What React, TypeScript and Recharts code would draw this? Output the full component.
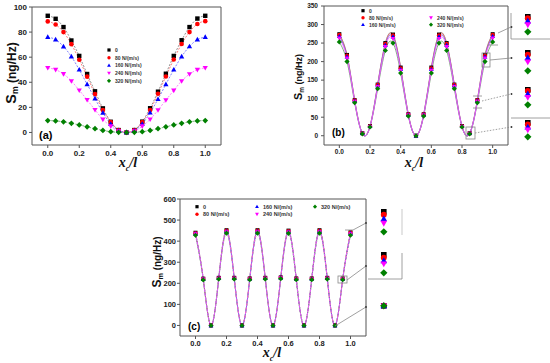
import React from 'react';
import { LineChart, Line, XAxis, YAxis, ReferenceLine, ScatterChart, Scatter } from 'recharts';

// positions along the beam, x_c / l
const xs = [0, 0.05, 0.1, 0.15, 0.2, 0.25, 0.3, 0.35, 0.4, 0.45, 0.5, 0.55, 0.6, 0.65, 0.7, 0.75, 0.8, 0.85, 0.9, 0.95, 1.0];
const xTicks = [0, 0.2, 0.4, 0.6, 0.8, 1.0];

const seriesNames = ['0', '80 N/(m/s)', '160 N/(m/s)', '240 N/(m/s)', '320 N/(m/s)'];
const seriesKeys = ['s0', 's80', 's160', 's240', 's320'];
const colors = ['#000000', '#ff0000', '#0000ff', '#ff00ff', '#008000'];
const lineColors = ['#777777', '#ff6060', '#6060ff', '#ff60ff', '#5a9a5a'];
const shapes = ['square', 'circle', 'triangle', 'down', 'diamond'];

// (a)
const a0 = [93, 90.6, 84, 73.3, 61, 46.6, 32.8, 19.2, 8.5, 1.9, 0, 1.9, 8.6, 19.3, 32.5, 46.8, 61, 73.5, 84, 90.8, 93];
const a80 = [88.5, 86, 80, 70.4, 58, 44.5, 30.6, 17.8, 8.3, 2, 0, 2, 8.3, 17.8, 30.8, 44.6, 58.2, 70.5, 80, 86.5, 88.7];
const a160 = [76, 74, 68.5, 60.5, 50, 38.4, 27, 15.7, 6.7, 1.5, 0, 1.5, 6.8, 15.8, 26.5, 38.4, 50, 60.5, 68.6, 74, 76];
const a240 = [51.5, 50, 46.6, 41, 33.6, 26, 18, 10.4, 5, 1, 0, 1, 5, 10.5, 17.8, 25.8, 33.5, 41, 46.5, 50, 51.5];
const a320 = [9.5, 9.2, 8.5, 7.3, 6, 4.5, 3, 1.6, 0.6, 0.1, 0, 0.1, 0.6, 1.6, 3, 4.5, 6, 7.3, 8.5, 9.2, 9.5];
const aYTicks = [0, 20, 40, 60, 80, 100];

// (b)
const b0 = [274, 218, 96, 6.8, 26, 138, 250, 273, 184, 58, 0, 58, 184, 273, 250, 138, 26, 6.8, 96, 218, 274];
const b80 = [272, 216, 95.5, 6.6, 25.8, 137, 248, 271, 182, 57.5, 0, 57.5, 182, 271, 248, 137, 25.8, 6.6, 95.5, 216, 272];
const b160 = [268, 213, 94, 6.3, 25.2, 135, 244, 267, 179, 56.5, 0, 56.5, 179, 267, 244, 135, 25.2, 6.3, 94, 213, 268];
const b240 = [263, 209, 92.5, 6.0, 24.7, 132, 240, 262, 176, 55.5, 0, 55.5, 176, 262, 240, 132, 24.7, 6.0, 92.5, 209, 263];
const b320 = [253, 200, 89, 5.2, 23.6, 127, 230, 250, 169, 53, 0, 53, 169, 250, 230, 127, 23.6, 5.2, 89, 200, 253];
const bYTicks = [0, 50, 100, 150, 200, 250, 300, 350];

// (c)
const c0 = [440, 222, 0, 226, 452, 226, 0, 223, 452, 226, 0, 228, 450, 223, 0, 223, 452, 226, 0, 223, 442];
const c80 = [438, 221, 0, 225, 450, 225, 0, 222, 450, 225, 0, 227, 448, 222, 0, 222, 450, 225, 0, 222, 440];
const c160 = [436, 220, 0, 224, 447, 224, 0, 221, 447, 224, 0, 226, 445, 221, 0, 221, 447, 224, 0, 221, 437];
const c240 = [434, 219, 0, 223, 444, 223, 0, 220, 444, 223, 0, 225, 443, 220, 0, 220, 444, 223, 0, 220, 434];
const c320 = [428, 216, 0, 220, 438, 220, 0, 217, 438, 220, 0, 222, 437, 217, 0, 217, 438, 220, 0, 217, 428];
const cYTicks = [0, 100, 200, 300, 400, 500, 600];

const toRows = (series: number[][]) =>
  xs.map((x, i) => {
    const row: any = { x };
    seriesKeys.forEach((k, j) => (row[k] = series[j][i]));
    return row;
  });

const sans = 'Arial, "Liberation Sans", sans-serif';
const serif = '"Times New Roman", "Liberation Serif", serif';
const axisColor = '#555';

function Marker({ shape, cx, cy, r, color }: any) {
  if (cx == null || cy == null) return null;
  switch (shape) {
    case 'square':
      return <rect x={cx - r} y={cy - r} width={2 * r} height={2 * r} fill={color} />;
    case 'circle':
      return <circle cx={cx} cy={cy} r={r * 1.05} fill={color} />;
    case 'triangle':
      return <polygon points={`${cx},${cy - r * 1.25} ${cx - r * 1.2},${cy + r * 0.85} ${cx + r * 1.2},${cy + r * 0.85}`} fill={color} />;
    case 'down':
      return <polygon points={`${cx},${cy + r * 1.25} ${cx - r * 1.2},${cy - r * 0.85} ${cx + r * 1.2},${cy - r * 0.85}`} fill={color} />;
    default:
      return <polygon points={`${cx},${cy - r * 1.3} ${cx + r * 1.3},${cy} ${cx},${cy + r * 1.3} ${cx - r * 1.3},${cy}`} fill={color} />;
  }
}

function Panel({ series, left, top, width, height, margin, yAxisWidth, xAxisHeight, yDomain, yTicks, curve, dash, r, yTickMargin, xTickMargin, tickFont }: any) {
  const rows = toRows(series);
  const tick = { fontSize: tickFont, fontWeight: 'bold', fontFamily: sans, fill: '#222' };
  const curveOrder = [4, 0, 1, 2, 3];
  return (
    <div style={{ position: 'absolute', left, top }}>
      <LineChart width={width} height={height} data={rows} margin={margin}>
        <XAxis type="number" dataKey="x" domain={[-0.1, 1.1]} ticks={xTicks} tickFormatter={(v: number) => v.toFixed(1)}
          tick={tick} tickSize={3} tickMargin={xTickMargin} height={xAxisHeight} axisLine={{ stroke: axisColor }} tickLine={{ stroke: axisColor }} />
        <YAxis type="number" domain={yDomain} ticks={yTicks} tick={tick} tickSize={3} tickMargin={yTickMargin} width={yAxisWidth}
          axisLine={{ stroke: axisColor }} tickLine={{ stroke: axisColor }} />
        <ReferenceLine x={1.1} stroke={axisColor} />
        <ReferenceLine y={yDomain[1]} stroke={axisColor} />
        {curveOrder.map((j) => (
          <Line key={'c' + j} dataKey={seriesKeys[j]} type={curve} stroke={lineColors[j]} strokeWidth={0.8}
            strokeDasharray={dash} dot={false} activeDot={false} isAnimationActive={false} />
        ))}
        {seriesKeys.map((k, j) => (
          <Line key={'m' + j} dataKey={k} stroke="none" activeDot={false} isAnimationActive={false}
            dot={(p: any) => <Marker key={`${k}-${p.index}`} shape={shapes[j]} cx={p.cx} cy={p.cy} r={r} color={colors[j]} />} />
        ))}
      </LineChart>
    </div>
  );
}

function InsetGroup({ series, idx, cx, yTop, yBot, r }: any) {
  const vals = series.map((s: number[]) => s[idx]);
  const max = Math.max(...vals);
  const min = Math.min(...vals);
  const pad = r + 3;
  const span = yBot - yTop;
  let domain: number[];
  let h: number;
  if (max - min < 1e-9 || span <= 0) {
    domain = [min - 1, max + 1];
    h = 2 * pad;
  } else {
    const k = (max - min) / span;
    domain = [min - pad * k, max + pad * k];
    h = span + 2 * pad;
  }
  return (
    <div style={{ position: 'absolute', left: cx - pad, top: yTop - pad }}>
      <ScatterChart width={2 * pad} height={h} margin={{ top: 0, right: 0, bottom: 0, left: 0 }} style={{ overflow: 'visible' }}>
        <XAxis type="number" dataKey="x" domain={[-1, 1]} hide />
        <YAxis type="number" dataKey="y" domain={domain} hide allowDataOverflow />
        {series.map((s: number[], j: number) => (
          <Scatter key={j} data={[{ x: 0, y: s[idx] }]} isAnimationActive={false}
            shape={(p: any) => <Marker shape={shapes[j]} cx={p.cx} cy={p.cy} r={r} color={colors[j]} />} />
        ))}
      </ScatterChart>
    </div>
  );
}

function LegendEntry({ j, x, y, fs }: any) {
  return (
    <g>
      <Marker shape={shapes[j]} cx={x} cy={y} r={1.6} color={colors[j]} />
      <text x={x + 6} y={y + fs * 0.36} fontSize={fs} fontFamily={sans} fontWeight="bold" fill="#333">{seriesNames[j]}</text>
    </g>
  );
}

function YTitle({ x, y, fs }: any) {
  return (
    <text transform={`translate(${x},${y}) rotate(-90)`} textAnchor="middle" fontFamily={sans} fontWeight="bold" fontSize={fs} fill="#111">
      <tspan fontSize={fs * 1.2}>S</tspan>
      <tspan fontSize={fs * 0.72} dy={fs * 0.2}>m</tspan>
      <tspan dy={-fs * 0.2}> (ng/Hz)</tspan>
    </text>
  );
}

function XTitle({ x, y, fs }: any) {
  return (
    <text x={x} y={y} textAnchor="middle" fontFamily={serif} fontStyle="italic" fontWeight="bold" fontSize={fs} fill="#111">
      x<tspan fontSize={fs * 0.6} dy={fs * 0.25}>c</tspan>
      <tspan dy={-fs * 0.25}>/l</tspan>
    </text>
  );
}

function Overlay() {
  const g = '#888';
  const dot = { strokeDasharray: '1.5 1.5' };
  return (
    <svg width={550} height={363} style={{ position: 'absolute', left: 0, top: 0, pointerEvents: 'none' }}>
      <YTitle x={16} y={73} fs={12} />
      <YTitle x={302} y={77} fs={9} />
      <YTitle x={161} y={262} fs={10} />
      <XTitle x={128} y={167} fs={14} />
      <XTitle x={414} y={167} fs={14} />
      <XTitle x={272} y={357} fs={14} />
      <text x={39} y={139} fontSize={11} fontWeight="bold" fontFamily={sans}>(a)</text>
      <text x={332} y={136} fontSize={10} fontWeight="bold" fontFamily={sans}>(b)</text>
      <text x={188} y={330} fontSize={10} fontWeight="bold" fontFamily={sans}>(c)</text>

      {[0, 1, 2, 3, 4].map((j) => <LegendEntry key={'la' + j} j={j} x={109} y={50 + j * 7.7} fs={5} />)}
      {[0, 1, 2].map((j) => <LegendEntry key={'lb' + j} j={j} x={363} y={10.7 + j * 7} fs={5} />)}
      {[3, 4].map((j) => <LegendEntry key={'lb' + j} j={j} x={431} y={17.7 + (j - 3) * 7} fs={5} />)}
      {[0, 1].map((j) => <LegendEntry key={'lc' + j} j={j} x={197} y={206.7 + j * 7.5} fs={5.5} />)}
      {[2, 3].map((j) => <LegendEntry key={'lc' + j} j={j} x={257} y={206.7 + (j - 2) * 7.5} fs={5.5} />)}
      <LegendEntry j={4} x={315} y={206.7} fs={5.5} />

      <g stroke={g} strokeWidth={0.8} fill="none">
        <line x1={488} y1={45} x2={498} y2={45} />
        <line x1={498} y1={33} x2={511} y2={27} />
        <rect x={482} y={53} width={8} height={14} />
        <line x1={490} y1={60} x2={511} y2={58} />
        <line x1={473} y1={96} x2={482} y2={96} />
        <line x1={473} y1={108} x2={482} y2={108} />
        <line x1={482} y1={101} x2={511} y2={94} {...dot} />
        <rect x={466} y={127} width={9} height={12} />
        <line x1={475} y1={133} x2={511} y2={127} {...dot} />
        <line x1={511} y1={13} x2={511} y2={39} />
        <line x1={511} y1={39} x2={550} y2={39} />
        <line x1={511} y1={118} x2={550} y2={118} />

        <line x1={345} y1={230} x2={353} y2={230} />
        <line x1={353} y1={230} x2={366} y2={223} />
        <rect x={338} y={276} width={9} height={7} />
        <line x1={347} y1={280} x2={366} y2={266} />
        <line x1={335} y1={326} x2={366} y2={307} />
        <line x1={402} y1={209} x2={402} y2={235} stroke="#bbb" />
        <line x1={402} y1={253} x2={402} y2={279} />
        <line x1={368} y1={279} x2={402} y2={279} />
      </g>
      <g fill="#333">
        {[27, 58, 94, 127].map((y) => <circle key={'db' + y} cx={511.5} cy={y} r={0.9} />)}
        {[223, 266, 307].map((y) => <circle key={'dc' + y} cx={366} cy={y} r={0.9} />)}
      </g>
    </svg>
  );
}

export default function App() {
  const aSeries = [a0, a80, a160, a240, a320];
  const bSeries = [b0, b80, b160, b240, b320];
  const cSeries = [c0, c80, c160, c240, c320];
  return (
    <div style={{ position: 'absolute', left: 0, top: 0, width: 550, height: 363, background: '#fff', overflow: 'hidden' }}>
      <Panel series={aSeries} left={0} top={0} width={230} height={185} margin={{ top: 7, right: 9, bottom: 0, left: 0 }}
        yAxisWidth={32} xAxisHeight={40} yDomain={[-10, 100]} yTicks={aYTicks} curve="monotone" dash="2 1.5" r={2.2}
        yTickMargin={2} xTickMargin={2} tickFont={8} />
      <Panel series={bSeries} left={290} top={0} width={220} height={185} margin={{ top: 6, right: 2, bottom: 0, left: 0 }}
        yAxisWidth={34} xAxisHeight={40} yDomain={[-25, 350]} yTicks={bYTicks} curve="natural" r={2}
        yTickMargin={3} xTickMargin={1} tickFont={6.5} />
      <Panel series={cSeries} left={145} top={192} width={225} height={171} margin={{ top: 7, right: 4, bottom: 0, left: 0 }}
        yAxisWidth={35} xAxisHeight={27} yDomain={[-50, 600]} yTicks={cYTicks} curve="natural" dash="3 1" r={2}
        yTickMargin={1} xTickMargin={2} tickFont={7.5} />

      <InsetGroup series={bSeries} idx={20} cx={528} yTop={17} yBot={32} r={2.8} />
      <InsetGroup series={bSeries} idx={19} cx={528} yTop={53} yBot={71} r={2.8} />
      <InsetGroup series={bSeries} idx={18} cx={528} yTop={90} yBot={105} r={2.8} />
      <InsetGroup series={bSeries} idx={17} cx={528} yTop={123} yBot={137} r={2.8} />
      <InsetGroup series={cSeries} idx={20} cx={384} yTop={212} yBot={232} r={2.8} />
      <InsetGroup series={cSeries} idx={19} cx={384} yTop={255} yBot={273} r={2.8} />
      <InsetGroup series={cSeries} idx={18} cx={384} yTop={306} yBot={306} r={2.8} />

      <Overlay />
    </div>
  );
}
